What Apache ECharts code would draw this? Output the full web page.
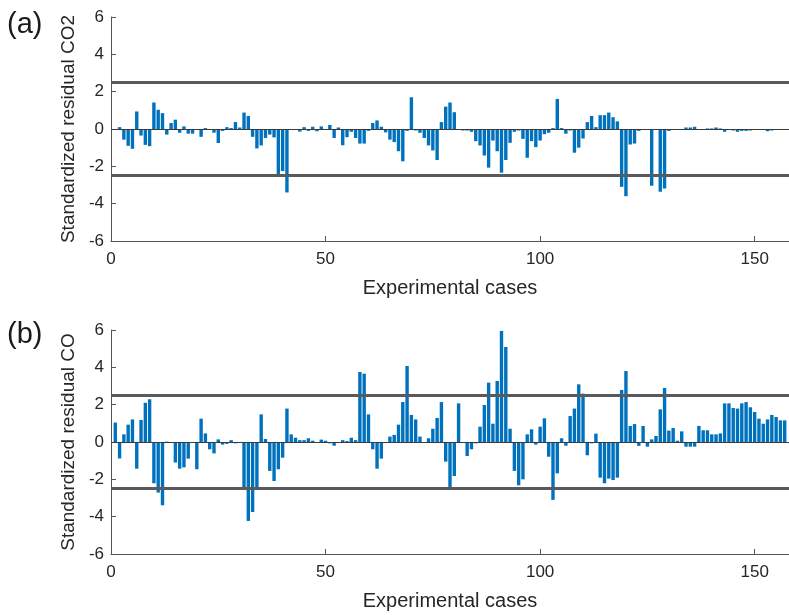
<!DOCTYPE html>
<html>
<head>
<meta charset="utf-8">
<script src="https://cdn.jsdelivr.net/npm/echarts@6/dist/echarts.min.js"></script>
<style>html,body{margin:0;padding:0;background:#fff}#c{width:789px;height:615px}</style>
</head>
<body>
<div id="c"></div>
<script>
// Standardized residuals, cases 1..157
var co2Residuals = [
 -0.05, 0.1, -0.57, -0.9, -1.06, 0.94, -0.35, -0.85, -0.92, 1.42,
 1.03, 0.85, -0.3, 0.32, 0.5, -0.2, 0.14, -0.25, -0.25, 0,
 -0.42, 0.05, 0, -0.2, -0.75, -0.1, 0.1, 0.05, 0.37, 0.08,
 0.88, 0.7, -0.42, -1.04, -0.88, -0.48, -0.3, -0.45, -2.55, -2.25,
 -3.4, -0.05, 0, -0.14, 0.1, -0.1, 0.12, -0.12, 0.14, 0,
 0.22, -0.48, 0.08, -0.87, -0.44, -0.15, -0.48, -0.78, -0.78, -0.1,
 0.32, 0.46, 0.12, -0.18, -0.57, -0.7, -1.19, -1.73, -0.1, 1.7,
 -0.08, -0.2, -0.48, -0.88, -1.15, -1.66, 0.37, 1.2, 1.42, 0.9,
 0, -0.08, -0.08, -0.15, -0.65, -0.88, -1.42, -2.07, -0.62, -1.19,
 -2.34, -1.66, -0.74, -0.15, -0.08, -0.53, -1.54, -0.65, -0.97, -0.62,
 -0.28, -0.2, 0.05, 1.61, 0.05, -0.25, -0.08, -1.27, -1.0, -0.51,
 0.37, 0.7, 0.1, 0.74, 0.74, 0.88, 0.63, 0.41, -3.1, -3.6,
 -0.83, -0.78, -0.1, 0, 0, -3.04, 0, -3.36, -3.19, -0.1,
 -0.05, 0, 0, 0.08, 0.08, 0.12, 0, 0, 0.03, 0.03,
 0.08, 0.03, -0.15, -0.05, -0.08, -0.15, -0.1, -0.1, -0.08, 0,
 0, 0, -0.12, -0.08, -0.03, 0, 0
];
var coResiduals = [
 1.04, -0.88, 0.41, 0.93, 1.21, -1.43, 1.18, 2.1, 2.29, -2.21,
 -2.71, -3.39, 0.02, -0.05, -1.1, -1.43, -1.36, -0.89, 0, -1.46,
 1.25, 0.46, -0.39, -0.61, 0.14, -0.14, -0.1, 0.1, -0.07, 0,
 -2.45, -4.23, -3.75, -2.5, 1.48, 0.16, -1.55, -2.09, -1.46, -0.84,
 1.79, 0.41, 0.23, 0.1, 0.1, 0.2, 0.07, -0.03, 0.13, 0.07,
 -0.07, -0.2, -0.05, 0.1, 0.05, 0.23, 0.1, 3.75, 3.66, 1.48,
 -0.39, -1.43, -0.89, 0, 0.29, 0.38, 0.93, 2.14, 4.07, 1.45,
 1.21, 0.29, 0, 0.2, 0.71, 1.29, 2.14, -1.05, -2.48, -1.82,
 2.07, 0, -0.75, -0.39, -0.07, 0.82, 1.98, 3.18, 0.98, 3.27,
 5.95, 5.09, 0.71, -1.55, -2.32, -2.0, 0.41, 0.68, -0.14, 0.82,
 1.27, -0.79, -3.1, -1.68, 0.2, -0.2, 1.39, 1.79, 3.09, 2.59,
 -0.71, -0.07, 0.45, -1.91, -2.21, -1.96, -2.04, -1.91, 2.79, 3.8,
 0.86, 0.96, -0.21, 0.86, -0.25, 0.14, 0.32, 1.75, 2.89, 0.61,
 0.75, 0.07, 0.57, -0.25, -0.25, -0.25, 0.86, 0.63, 0.63, 0.41,
 0.41, 0.46, 2.07, 2.07, 1.82, 1.79, 2.07, 2.14, 1.86, 1.61,
 1.25, 0.98, 1.21, 1.45, 1.34, 1.16, 1.16
];
var thresholds = [2.5, -2.5];
var yTickValues = [-6, -4, -2, 0, 2, 4, 6];
var xTickValues = [0, 50, 100, 150];
var panelLabels = ['(a)', '(b)'];
var yNames = ['Standardized residual CO2', 'Standardized residual CO'];
var xName = 'Experimental cases';

var FONT = 'Liberation Sans, Arial, sans-serif';
var TXT = '#262626';
var AX = '#555555';

function toPairs(arr){ return arr.map(function(v,i){ return [i+1, v]; }); }

function xAxisCfg(idx){
  return {
    gridIndex: idx, type: 'value', min: 0, max: 158, interval: 50,
    name: xName, nameLocation: 'middle', nameGap: 37,
    nameTextStyle: {fontFamily: FONT, fontSize: 20, color: TXT},
    axisLine: {show: true, onZero: false, lineStyle: {color: AX, width: 1}},
    axisTick: {show: true, inside: true, length: 5, lineStyle: {color: AX}},
    axisLabel: {fontFamily: FONT, fontSize: 17, color: TXT, margin: 10, showMaxLabel: false},
    splitLine: {show: false}
  };
}
function yAxisCfg(idx){
  return {
    gridIndex: idx, type: 'value', min: yTickValues[0], max: yTickValues[yTickValues.length-1], interval: 2,
    name: yNames[idx], nameLocation: 'middle', nameGap: 22,
    nameTextStyle: {fontFamily: FONT, fontSize: 19, color: TXT},
    axisLine: {show: true, lineStyle: {color: AX, width: 1}},
    axisTick: {show: true, inside: true, length: 5, lineStyle: {color: AX}},
    axisLabel: {fontFamily: FONT, fontSize: 17, color: TXT, margin: 7},
    splitLine: {show: false}
  };
}
function seriesCfg(idx, data){
  var ml = thresholds.map(function(t){ return {yAxis: t, lineStyle: {color: '#5a5a5a', width: 3, type: 'solid'}}; });
  ml.push({yAxis: 0, lineStyle: {color: '#3a3a3a', width: 1, type: 'solid'}});
  return {
    type: 'bar', xAxisIndex: idx, yAxisIndex: idx, data: toPairs(data),
    barWidth: 3.4, itemStyle: {color: '#0072BD'}, animation: false,
    markLine: {silent: true, symbol: 'none', label: {show: false}, animation: false,
      lineStyle: {type: 'solid'}, data: ml}
  };
}

var chart = echarts.init(document.getElementById('c'), null, {renderer: 'canvas'});
chart.setOption({
  animation: false,
  backgroundColor: '#fff',
  grid: [
    {left: 111, top: 17, width: 678, height: 224},
    {left: 111, top: 330, width: 678, height: 224}
  ],
  xAxis: [xAxisCfg(0), xAxisCfg(1)],
  yAxis: [yAxisCfg(0), yAxisCfg(1)],
  series: [seriesCfg(0, co2Residuals), seriesCfg(1, coResiduals)],
  graphic: [
    {type: 'text', left: 7, top: 10, style: {text: panelLabels[0], font: '29px ' + FONT, fill: '#1a1a1a'}},
    {type: 'text', left: 7, top: 320, style: {text: panelLabels[1], font: '29px ' + FONT, fill: '#1a1a1a'}}
  ]
});
</script>
</body>
</html>
